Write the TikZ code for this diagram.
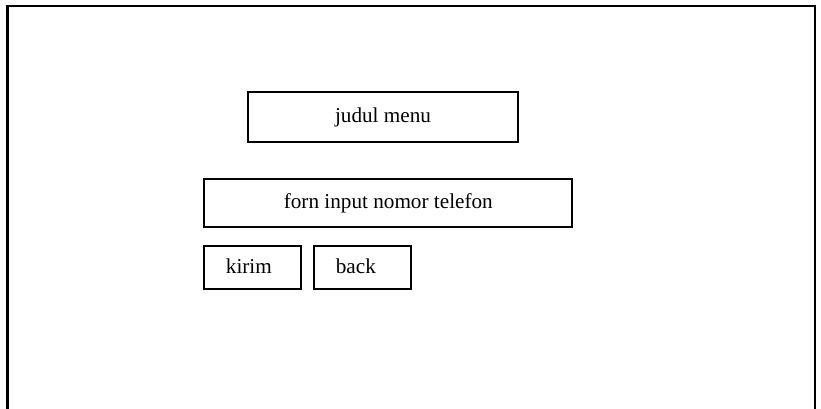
\documentclass[tikz,border=0pt]{standalone}
\usepackage{fontspec}
\setmainfont{Liberation Serif}
\begin{document}
\begin{tikzpicture}[x=0.75pt,y=-0.75pt,
  box/.style={draw=black,line width=1.4pt,inner sep=0pt,font=\fontsize{15.9}{18}\selectfont},
  btn/.style={box,minimum width=72.5pt,minimum height=32.7pt,text width=40pt,inner xsep=16pt,align=left}]
\useasboundingbox (0,0) rectangle (821,408);
\clip (0,0) rectangle (821,408);
\draw[line width=1.6pt] (7.5,430) -- (7.5,6) -- (815,6) -- (815,430);
\node[box,minimum width=203pt,minimum height=37.5pt,text depth=0.6ex] (judul) at (383,116.7) {judul menu};
\node[box,minimum width=276pt,minimum height=36.2pt,text depth=0.6ex] (form) at (388.3,203.2) {forn input nomor telefon};
\node[btn,text depth=0.4ex] (kirim) at (252.6,267.5) {kirim};
\node[btn,text depth=0.4ex] (back) at (362.5,267.5) {back};
\end{tikzpicture}
\end{document}
